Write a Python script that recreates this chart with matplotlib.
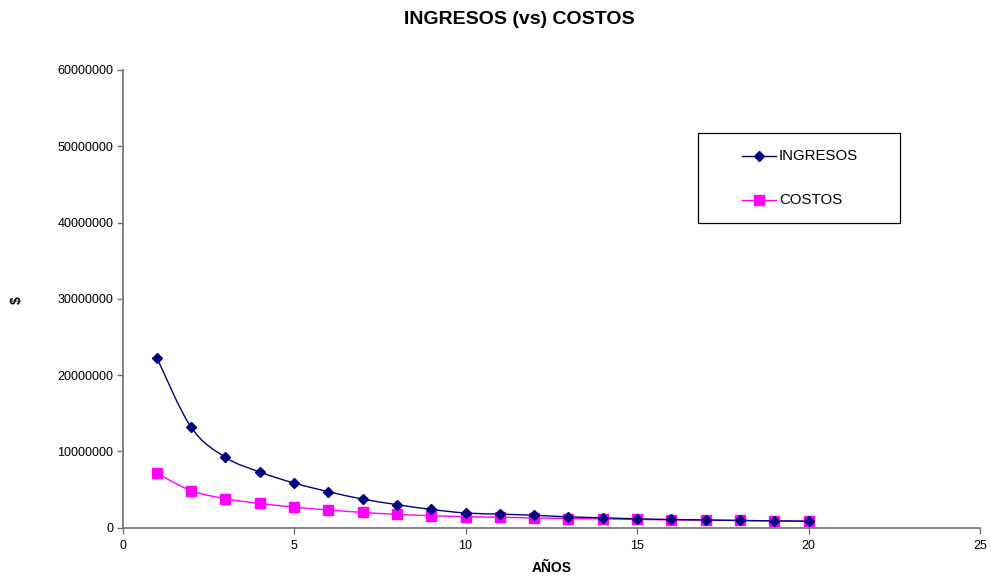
import matplotlib
matplotlib.use("Agg")
import matplotlib.pyplot as plt
from matplotlib.path import Path
from matplotlib.patches import PathPatch, Rectangle
from matplotlib.lines import Line2D
import numpy as np

plt.rcParams['font.family'] = ['Liberation Sans', 'DejaVu Sans']

# Years of the projection
anios = [1, 2, 3, 4, 5, 6, 7, 8, 9, 10, 11, 12, 13, 14, 15, 16, 17, 18, 19, 20]

# Revenue and cost per year ($)
ingresos = [22270000, 13150000, 9200000, 7280000, 5830000, 4700000, 3730000,
            3000000, 2370000, 1900000, 1760000, 1600000, 1400000, 1270000,
            1140000, 1050000, 990000, 920000, 870000, 830000]
costos = [7100000, 4830000, 3780000, 3150000, 2680000, 2290000, 1980000,
          1720000, 1550000, 1420000, 1340000, 1260000, 1180000, 1130000,
          1060000, 1000000, 960000, 920000, 870000, 830000]

x_ticks = [0, 5, 10, 15, 20, 25]
y_ticks = [0, 10000000, 20000000, 30000000, 40000000, 50000000, 60000000]

titulo = "INGRESOS (vs) COSTOS"
etiqueta_x = "AÑOS"
etiqueta_y = "$"
series_nombres = ["INGRESOS", "COSTOS"]

COLOR_ING = "#000080"
COLOR_COS = "#FF00FF"

W, H = 991, 577


def smooth_path(xs, ys, tension=1.0 / 6.0):
    """Cubic Bezier path through the points (Catmull-Rom style control points)."""
    xs = np.asarray(xs, float)
    ys = np.asarray(ys, float)
    n = len(xs)
    verts = [(xs[0], ys[0])]
    codes = [Path.MOVETO]
    for i in range(n - 1):
        i0 = max(i - 1, 0)
        i3 = min(i + 2, n - 1)
        c1 = (xs[i] + (xs[i + 1] - xs[i0]) * tension,
              ys[i] + (ys[i + 1] - ys[i0]) * tension)
        c2 = (xs[i + 1] - (xs[i3] - xs[i]) * tension,
              ys[i + 1] - (ys[i3] - ys[i]) * tension)
        verts += [c1, c2, (xs[i + 1], ys[i + 1])]
        codes += [Path.CURVE4] * 3
    return Path(verts, codes)


def fx(px):
    return px / W


def fy(py):
    return 1 - py / H


fig = plt.figure(figsize=(W / 100, H / 100), dpi=100)
ax = fig.add_axes([fx(122.5), fy(527.5), fx(980) - fx(122.5), fy(70) - fy(527.5)])

for xs, ys, color in ((anios, costos, COLOR_COS), (anios, ingresos, COLOR_ING)):
    ax.add_patch(PathPatch(smooth_path(xs, ys), facecolor="none",
                           edgecolor=color, linewidth=1.0, zorder=2))

ax.plot(anios, costos, linestyle="none", marker="s", markersize=6.5,
        color=COLOR_COS, zorder=3)
ax.plot(anios, ingresos, linestyle="none", marker="D", markersize=5,
        color=COLOR_ING, zorder=4)

ax.set_xlim(0, 25)
ax.set_ylim(0, 60000000)
ax.set_xticks(x_ticks)
ax.set_yticks(y_ticks)
ax.set_xticklabels([str(v) for v in x_ticks])
ax.set_yticklabels([str(v) for v in y_ticks])

for side in ("top", "right"):
    ax.spines[side].set_visible(False)
for side in ("left", "bottom"):
    ax.spines[side].set_color("#707070")
    ax.spines[side].set_linewidth(1.2)
ax.tick_params(axis="both", direction="out", length=4, width=1.0,
               color="#707070", labelsize=9, labelcolor="black")
ax.tick_params(axis="y", pad=2.5)
ax.tick_params(axis="x", pad=5)

ax.set_xlabel(etiqueta_x, fontsize=10, fontweight="bold")
ax.xaxis.label.set_va("center")
ax.xaxis.set_label_coords(0.5, (527.5 - 568) / 457.5)
ax.set_ylabel(etiqueta_y, fontsize=10, fontweight="bold")
ax.yaxis.label.set_va("center")
ax.yaxis.set_label_coords((17 - 122.5) / 857.5, (527.5 - 300) / 457.5)
fig.text(fx(519), fy(20), titulo, ha="center", va="center",
         fontsize=14, fontweight="bold")

# Legend box, drawn in figure pixels
fig.add_artist(Rectangle((fx(698), fy(223)), fx(900) - fx(698), fy(133) - fy(223),
                         transform=fig.transFigure, facecolor="white",
                         edgecolor="black", linewidth=0.9, zorder=5))
entradas = [(156, COLOR_ING, "D", 5), (200, COLOR_COS, "s", 6.5)]
for (py, color, mk, ms), nombre in zip(entradas, series_nombres):
    fig.add_artist(Line2D([fx(742), fx(776)], [fy(py), fy(py)],
                          transform=fig.transFigure, color=color, linewidth=1.0,
                          zorder=6))
    fig.add_artist(Line2D([fx(759)], [fy(py)], transform=fig.transFigure,
                          color=color, marker=mk, markersize=ms,
                          linestyle="none", zorder=7))
    fig.text(fx(779), fy(py), nombre, ha="left", va="center", fontsize=10.8,
             zorder=8)

fig.savefig("out.png", dpi=100)
